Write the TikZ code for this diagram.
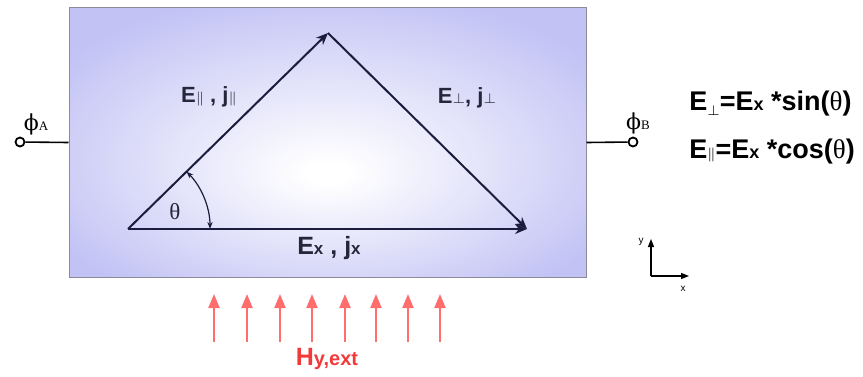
\documentclass[tikz,border=0pt]{standalone}
\usepackage{fontspec}
\setmainfont{Liberation Sans}
\newfontfamily\grk{Liberation Serif}
\newfontfamily\phifont{DejaVu Serif}
\usetikzlibrary{arrows.meta}
\definecolor{plateblue}{HTML}{C2C2F5}
\definecolor{plateedge}{HTML}{8A8A9A}
\definecolor{vecink}{HTML}{1C1C3C}
\definecolor{labink}{HTML}{26263A}
\definecolor{fieldred}{HTML}{FF6E6E}
\definecolor{fieldtext}{HTML}{F23A3A}
\pgfdeclareradialshading{platelight}{\pgfpoint{0bp}{-6bp}}{color(0bp)=(white); color(2bp)=(white); color(31bp)=(plateblue); color(50bp)=(plateblue)}
\newcommand\lo[1]{{\fontsize{7}{7}\selectfont #1}}

\begin{document}
\begin{tikzpicture}[x=0.5pt, y=0.5pt,
  font=\fontsize{11}{13}\selectfont\bfseries,
  plate/.style={draw=plateedge, line width=0.5pt, shading=platelight, minimum width=258.5pt, minimum height=134.5pt, inner sep=0pt},
  term/.style={circle, draw, fill=white, line width=0.9pt, inner sep=0pt, minimum size=4.5pt},
  wire/.style={line width=0.8pt, draw=black},
  vec/.style={-{Stealth[length=6pt,width=5pt]}, line width=1pt, draw=vecink},
  angarr/.style={{Stealth[length=3.5pt,width=2.6pt]}-{Stealth[length=3.5pt,width=2.6pt]}, line width=0.6pt, draw=vecink},
  harr/.style={-{Triangle[length=7pt,width=5.5pt]}, line width=1.1pt, draw=fieldred},
  axarr/.style={-{Triangle[length=4pt,width=3pt]}, line width=0.6pt, draw=black},
  lbl/.style={text=labink, inner sep=1pt},
  eq/.style={anchor=west, inner sep=0pt, font=\fontsize{13.5}{15}\selectfont\bfseries},
  phil/.style={font=\phifont\fontsize{11}{11}\selectfont, inner sep=0pt},
  axlbl/.style={font=\fontsize{5}{5}\selectfont, inner sep=0pt}
]
\useasboundingbox (0,0) rectangle (863,376);
\node[plate] (plate) at (327.5,233.5) {};

% triangle of field vectors
\coordinate (o) at (128,147);
\coordinate (t) at (328,343);
\coordinate (r) at (527,147);
\draw[vec] (o) -- (t);
\draw[vec] (t) -- (r);
\draw[vec] (o) -- (r);
\draw[angarr] (o) ++(82,0) arc[start angle=0, end angle=44.4, radius=82];
\node[lbl, font=\grk\fontsize{11.5}{11}\selectfont] (theta) at (175,164) {θ};
\node[lbl] (epar) at (209,279) {E\lo{$\parallel$} , j\lo{$\parallel$}};
\node[lbl] (eperp) at (467,278) {E\lo{$\perp$}, j\lo{$\perp$}};
\node[lbl, font=\fontsize{12.5}{14}\selectfont\bfseries] (ex) at (329,128) {E{\fontsize{8.5}{9}\selectfont x} , j{\fontsize{8.5}{9}\selectfont x}};

% contacts
\node[term] (ta) at (20,234) {};
\node[term] (tb) at (633,234) {};
\draw[wire] (ta) -- (plate.west);
\draw[wire] (plate.east) -- (tb);
\node[phil] (phia) at (36,252) {ϕ{\grk\fontsize{6.5}{6}\selectfont A}};
\node[phil] (phib) at (638,253) {ϕ{\grk\fontsize{6.5}{6}\selectfont B}};

\node[eq] (eqperp) at (689,272) {E\raisebox{-2.5pt}{\lo{$\perp$}}=E{\fontsize{9}{9}\selectfont x} *sin({\grk\mdseries θ})};
\node[eq] (eqpar) at (689,224) {E\lo{$\parallel$}=E{\fontsize{9}{9}\selectfont x} *cos({\grk\mdseries θ})};

% axes
\coordinate (ax) at (651,100);
\coordinate (ay) at (651,137);
\coordinate (axx) at (689,100);
\draw[axarr] (ax) -- (ay);
\draw[axarr] (ax) -- (axx);
\node[axlbl] (ylab) at (641,134) {y};
\node[axlbl] (xlab) at (683,87) {x};

% external field
\foreach \x in {214,247,280,312,345,376,408,440}
  \draw[harr] (\x,34) -- (\x,82);
\node[text=fieldtext, font=\fontsize{12.5}{14}\selectfont\bfseries] (hlab) at (327,17) {H{\fontsize{10}{11}\selectfont y,ext}};
\end{tikzpicture}
\end{document}
